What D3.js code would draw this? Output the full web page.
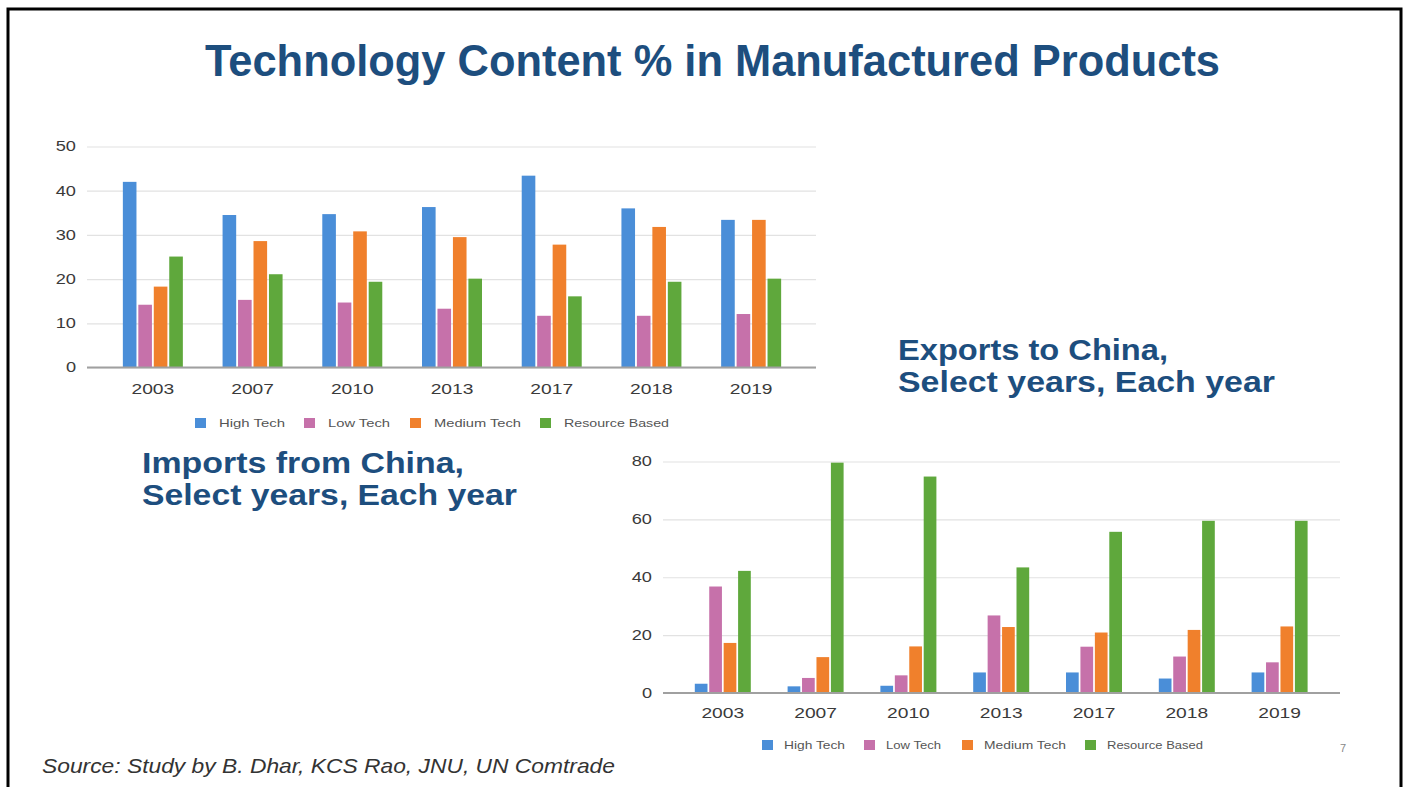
<!DOCTYPE html>
<html>
<head>
<meta charset="utf-8">
<script src="https://cdn.jsdelivr.net/npm/d3@7"></script>
<style>
  body { margin: 0; background: #fff; }
  svg { display: block; font-family: "Liberation Sans", Arial, sans-serif; }
</style>
</head>
<body>
<svg id="slide" width="1408" height="787"></svg>
<script>
// categories and series
const years = ["2003", "2007", "2010", "2013", "2017", "2018", "2019"];
const seriesNames = ["High Tech", "Low Tech", "Medium Tech", "Resource Based"];
const seriesColors = ["#4a8ed8", "#c671aa", "#f0802c", "#5fa83c"];

// imports from China (%)
const importsHigh = [42, 34.5, 34.7, 36.3, 43.4, 36, 33.4];
const importsLow = [14.2, 15.3, 14.7, 13.3, 11.7, 11.7, 12.1];
const importsMedium = [18.3, 28.6, 30.8, 29.5, 27.8, 31.8, 33.4];
const importsResource = [25.1, 21.1, 19.4, 20.1, 16.1, 19.4, 20.1];

// exports to China (%)
const exportsHigh = [3.2, 2.3, 2.5, 7.1, 7.1, 5, 7.1];
const exportsLow = [36.8, 5.2, 6.1, 26.8, 16, 12.6, 10.6];
const exportsMedium = [17.3, 12.4, 16.1, 22.8, 20.9, 21.8, 23];
const exportsResource = [42.2, 79.6, 74.8, 43.4, 55.7, 59.5, 59.5];

const importTicks = [0, 10, 20, 30, 40, 50];
const exportTicks = [0, 20, 40, 60, 80];

const svg = d3.select("#slide");
const navy = "#1d4e7e";

// slide frame
svg.append("rect")
    .attr("x", 8).attr("y", 9)
    .attr("width", 1393).attr("height", 800)
    .attr("fill", "none")
    .attr("stroke", "#000")
    .attr("stroke-width", 3);

// stretch text horizontally (the slide image is wider than the fonts)
function stretch(sel, k) {
    sel.each(function() {
        const w = this.getComputedTextLength();
        d3.select(this).attr("textLength", w * k).attr("lengthAdjust", "spacingAndGlyphs");
    });
}
function fit(sel, w) {
    sel.attr("textLength", w).attr("lengthAdjust", "spacingAndGlyphs");
}

function drawChart(cfg) {
    const g = svg.append("g");
    const x = d3.scaleBand().domain(years).range(cfg.xRange);
    const xs = d3.scaleBand().domain(seriesNames).range([0, cfg.groupW]).paddingInner(0.12);
    const y = d3.scaleLinear().domain([0, cfg.max]).range(cfg.yRange);

    // gridlines + y labels
    const yAxis = g.append("g")
        .attr("transform", `translate(${cfg.gridX[0]},0)`)
        .call(d3.axisLeft(y).tickValues(cfg.ticks)
            .tickSize(-(cfg.gridX[1] - cfg.gridX[0]))
            .tickPadding(11));
    yAxis.select(".domain").remove();
    yAxis.selectAll("line").attr("stroke", "#e2e2e2").attr("stroke-width", 1.2);
    yAxis.selectAll("text")
        .attr("fill", "#3a3a3a")
        .style("font-size", "14px")
        .call(stretch, 1.3);

    // bars
    const rows = years.map((yr, i) => ({ year: yr, vals: cfg.values.map(v => v[i]) }));
    const grp = g.selectAll(".grp")
        .data(rows)
        .enter().append("g")
        .attr("class", "grp")
        .attr("transform", d => `translate(${x(d.year) + x.bandwidth() / 2 - cfg.groupW / 2},0)`);
    grp.selectAll("rect")
        .data(d => d.vals.map((v, j) => ({ name: seriesNames[j], v: v, c: seriesColors[j] })))
        .enter().append("rect")
        .attr("x", d => xs(d.name))
        .attr("width", xs.bandwidth())
        .attr("y", d => y(d.v))
        .attr("height", d => y(0) - y(d.v))
        .attr("fill", d => d.c);

    // baseline
    g.append("line")
        .attr("x1", cfg.gridX[0]).attr("x2", cfg.gridX[1])
        .attr("y1", y(0)).attr("y2", y(0))
        .attr("stroke", "#a0a0a0")
        .attr("stroke-width", 2);

    // x labels
    const xAxis = g.append("g")
        .attr("transform", `translate(0,${y(0)})`)
        .call(d3.axisBottom(x).tickSize(0).tickPadding(cfg.xPad));
    xAxis.select(".domain").remove();
    xAxis.selectAll("text")
        .attr("fill", "#3a3a3a")
        .style("font-size", "15px")
        .call(stretch, 1.28);

    // legend
    const leg = g.selectAll(".leg")
        .data(seriesNames)
        .enter().append("g")
        .attr("class", "leg")
        .attr("transform", (d, i) => `translate(${cfg.legX[i]},${cfg.legY})`);
    leg.append("rect")
        .attr("x", 0).attr("y", -5)
        .attr("width", 11).attr("height", 10)
        .attr("fill", (d, i) => seriesColors[i]);
    leg.append("text")
        .attr("x", cfg.legGap).attr("y", 4)
        .attr("fill", "#555")
        .style("font-size", "11px")
        .text(d => d)
        .each(function(d, i) { fit(d3.select(this), cfg.legW[i]); });
}

drawChart({
    values: [importsHigh, importsLow, importsMedium, importsResource],
    max: 50, ticks: importTicks,
    xRange: [103, 801], gridX: [87, 816], yRange: [367.5, 146.5],
    groupW: 60, xPad: 16,
    legX: [195, 304, 410, 540], legY: 423, legGap: 24,
    legW: [66, 62, 87, 105]
});

drawChart({
    values: [exportsHigh, exportsLow, exportsMedium, exportsResource],
    max: 80, ticks: exportTicks,
    xRange: [676.4, 1326], gridX: [663, 1340], yRange: [693, 461.5],
    groupW: 56, xPad: 14,
    legX: [762, 864, 962, 1085], legY: 745, legGap: 22,
    legW: [61, 55, 82, 96]
});

// titles
svg.append("text")
    .attr("x", 712.5).attr("y", 76)
    .attr("text-anchor", "middle")
    .attr("fill", navy)
    .style("font-size", "45px").style("font-weight", "bold")
    .text("Technology Content % in Manufactured Products")
    .call(fit, 1015);

const subtitles = [
    { x: 142, y: 473, t: "Imports from China,", w: 322 },
    { x: 142, y: 505, t: "Select years, Each year", w: 375 },
    { x: 898, y: 360, t: "Exports to China,", w: 270 },
    { x: 898, y: 392, t: "Select years, Each year", w: 377 }
];
svg.selectAll(".sub")
    .data(subtitles)
    .enter().append("text")
    .attr("class", "sub")
    .attr("x", d => d.x).attr("y", d => d.y)
    .attr("fill", navy)
    .style("font-size", "29px").style("font-weight", "bold")
    .text(d => d.t)
    .each(function(d) { fit(d3.select(this), d.w); });

svg.append("text")
    .attr("x", 42).attr("y", 773)
    .attr("fill", "#333")
    .style("font-size", "21px").style("font-style", "italic")
    .text("Source: Study by B. Dhar, KCS Rao, JNU, UN Comtrade")
    .call(fit, 573);

svg.append("text")
    .attr("x", 1340).attr("y", 752)
    .attr("fill", "#888")
    .style("font-size", "11px")
    .text("7");
</script>
</body>
</html>
